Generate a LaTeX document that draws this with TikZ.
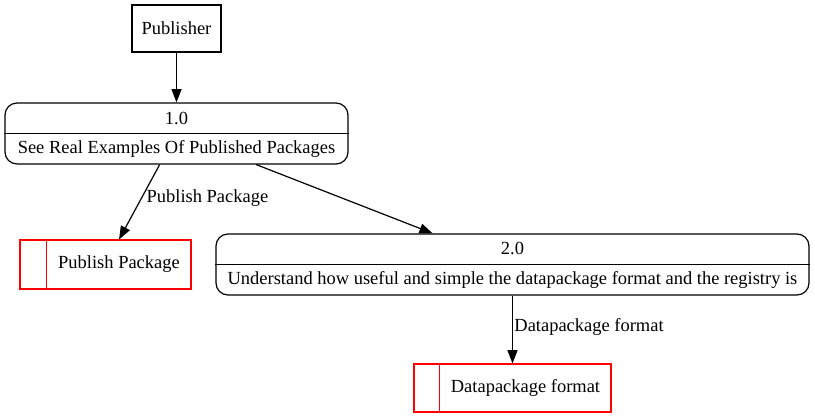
\documentclass[tikz,border=0pt]{standalone}
\usepackage{fontspec}
\setmainfont{Liberation Serif}
\usetikzlibrary{arrows.meta,calc}

\tikzset{
	entity/.style={draw, line width=0.8pt, minimum width=66.75pt, minimum height=35.25pt, inner sep=0pt},
	process/.style={draw, line width=0.9pt, rounded corners=9pt, inner sep=0pt},
	store/.style={draw=red, line width=0.8pt, inner sep=0pt},
	flow/.style={line width=0.9pt, -{Triangle[length=10pt,width=7.5pt]}},
	elabel/.style={anchor=west, inner sep=1pt}
}

\begin{document}
\begin{tikzpicture}[x=0.75pt, y=-0.75pt, font=\fontsize{13.85}{17}\selectfont]
			\useasboundingbox (0,0) rectangle (815,419);
			
			% external entity
			\node[entity] (pub) at (176.5,28.5) {Publisher};
			
			% processes
			\node[process, minimum width=257.25pt, minimum height=45.75pt] (p1) at (176.5,133.5) {};
			\draw[line width=0.8pt] (p1.west) -- (p1.east);
			\node (p1num) at ($(p1.center)+(0,-15.5)$) {1.0};
			\node (p1txt) at ($(p1.center)+(0,15)$) {See Real Examples Of Published Packages};
			
			\node[process, minimum width=444.75pt, minimum height=45.75pt] (p2) at (512.5,264.5) {};
			\draw[line width=0.8pt] (p2.west) -- (p2.east);
			\node (p2num) at ($(p2.center)+(0,-16)$) {2.0};
			\node (p2txt) at ($(p2.center)+(0,15.5)$) {Understand how useful and simple the datapackage format and the registry is};
			
			% data stores
			\node[store, minimum width=128.25pt, minimum height=36.75pt] (ds1) at (105.5,264.5) {};
			\draw[red, line width=0.8pt] ($(ds1.north west)+(27,0)$) -- ($(ds1.south west)+(27,0)$);
			\node (ds1txt) at (119,264.5) {Publish Package};
			
			\node[store, minimum width=147.75pt, minimum height=36pt] (ds2) at (512.5,388) {};
			\draw[red, line width=0.8pt] ($(ds2.north west)+(26,0)$) -- ($(ds2.south west)+(26,0)$);
			\node (ds2txt) at (525.5,388) {Datapackage format};
			
			% flows
			\draw[flow] (pub) -- (p1);
			\draw[flow] (p1) -- node[elabel, pos=0.45, xshift=2.5pt] {Publish Package} (ds1);
			\draw[flow] (p1) -- (p2);
			\draw[flow] (p2) -- node[elabel, pos=0.46] {Datapackage format} (ds2);
\end{tikzpicture}
\end{document}
